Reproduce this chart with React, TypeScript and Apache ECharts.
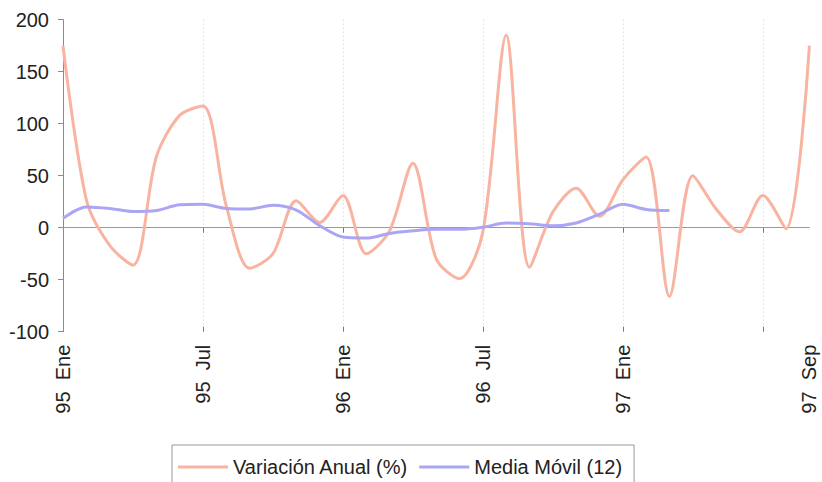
import React, { useEffect, useRef } from "react";
import * as echarts from "echarts";

const months = ["Ene", "Feb", "Mar", "Abr", "May", "Jun", "Jul", "Ago", "Sep", "Oct", "Nov", "Dic"];
const years = ["95", "96", "97"];
const categories: string[] = [];
for (const y of years) {
  for (const m of months) {
    if (categories.length < 33) categories.push(`${y}  ${m}`);
  }
}

const labelIndices = [0, 6, 12, 18, 24, 32];
const gridIndices = [6, 12, 18, 24, 30];

const variacionAnual = [
  175, 27, -17, -36, 68, 108, 117, 21, -39, -25, 26, 5,
  31, -25, -3, 62, -30, -49, -4, 185, -38, 15, 38, 11,
  46, 68, -66, 50, 18, -4, 31, -1, 175,
];

const mediaMovil = [
  9, 20, 18.5, 15.5, 16.5, 22, 22.5, 18.5, 18, 21.5, 17, 2,
  -9, -10, -5.5, -3, -1.6, -1.6, 0.4, 4.5, 3.8, 1.8, 4.5, 13,
  22.5, 17.5, 16.5,
];

const yTicks = { min: -100, max: 200, interval: 50 };

const FONT = "Arial, 'Liberation Sans', sans-serif";
const ORANGE = "#f8b4a0";
const BLUE = "#aba6f4";

export default function App() {
  const ref = useRef<HTMLDivElement>(null);
  useEffect(() => {
    if (!ref.current) return;
    const chart = echarts.init(ref.current, undefined, { renderer: "svg" });
    chart.setOption({
      animation: false,
      backgroundColor: "#ffffff",
      textStyle: { fontFamily: FONT },
      grid: { left: 63, right: 12.6, top: 19.7, bottom: 150.3, containLabel: false },
      legend: {
        left: 172,
        top: 445,
        padding: [12, 12, 22, 6],
        borderColor: "#9a9a9a",
        borderWidth: 1,
        icon: "rect",
        itemWidth: 50,
        itemHeight: 3,
        itemGap: 11,
        textStyle: { fontSize: 20, color: "#222", fontFamily: FONT },
        data: [
          { name: "Variación Anual (%)", itemStyle: { color: ORANGE } },
          { name: "Media Móvil (12)", itemStyle: { color: BLUE } },
        ],
      },
      xAxis: [
        {
          type: "category",
          data: categories,
          boundaryGap: false,
          position: "bottom",
          axisLine: { show: false, onZero: false },
          axisTick: { show: false },
          axisLabel: {
            rotate: 90,
            margin: 13,
            fontSize: 20,
            color: "#222",
            fontFamily: FONT,
            interval: (i: number) => labelIndices.includes(i),
          },
          splitLine: {
            show: true,
            interval: (i: number) => gridIndices.includes(i),
            lineStyle: { color: "#d0d0d0", type: [1, 3], width: 1 },
          },
        },
        {
          type: "category",
          data: categories,
          boundaryGap: false,
          position: "bottom",
          axisLine: { show: true, onZero: true, lineStyle: { color: "#9a9a9a", width: 1 } },
          axisTick: {
            show: true,
            length: 5,
            interval: (i: number) => gridIndices.includes(i),
            lineStyle: { color: "#777" },
          },
          axisLabel: { show: false },
          splitLine: { show: false },
        },
        {
          type: "category",
          data: categories,
          boundaryGap: false,
          position: "bottom",
          axisLine: { show: false, onZero: true },
          axisTick: {
            show: true,
            inside: true,
            length: 5,
            interval: (i: number) => gridIndices.includes(i),
            lineStyle: { color: "#777" },
          },
          axisLabel: { show: false },
          splitLine: { show: false },
        },
      ],
      yAxis: {
        type: "value",
        min: yTicks.min,
        max: yTicks.max,
        interval: yTicks.interval,
        axisLine: { show: true, lineStyle: { color: "#8a8a8a", width: 1 } },
        axisTick: { show: true, length: 5, lineStyle: { color: "#8a8a8a" } },
        axisLabel: { fontSize: 20, color: "#222", margin: 14, fontFamily: FONT },
        splitLine: { show: false },
      },
      series: [
        {
          name: "Variación Anual (%)",
          type: "line",
          data: variacionAnual,
          smooth: 0.3,
          symbol: "none",
          lineStyle: { color: ORANGE, width: 3 },
          itemStyle: { color: ORANGE },
        },
        {
          name: "Media Móvil (12)",
          type: "line",
          data: mediaMovil,
          smooth: 0.3,
          symbol: "none",
          lineStyle: { color: BLUE, width: 3 },
          itemStyle: { color: BLUE },
        },
      ],
    });
    return () => chart.dispose();
  }, []);
  return (
    <div
      ref={ref}
      style={{ position: "fixed", left: 0, top: 0, width: 822, height: 482, background: "#fff" }}
    />
  );
}
